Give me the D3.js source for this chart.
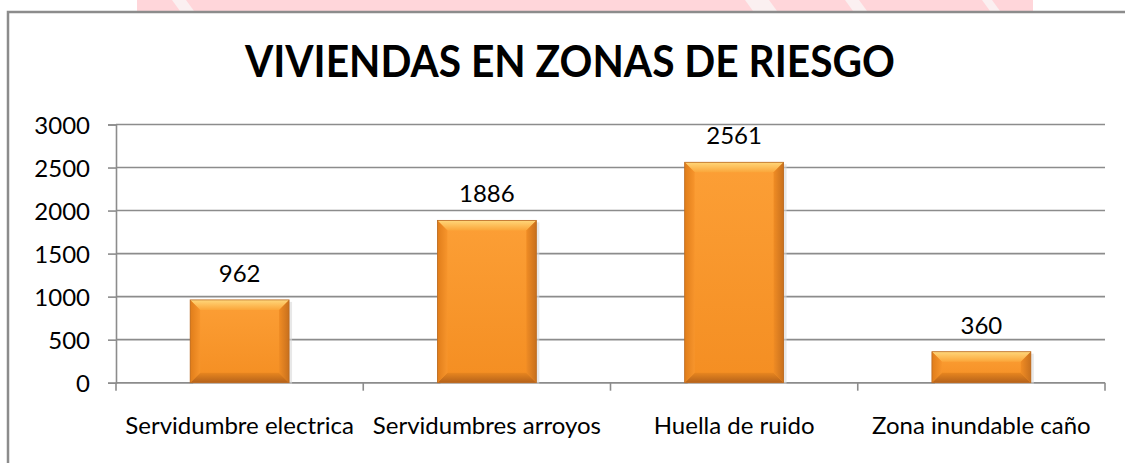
<!DOCTYPE html>
<html>
<head>
<meta charset="utf-8">
<script src="https://cdn.jsdelivr.net/npm/d3@7"></script>
<style>
  html, body { margin: 0; padding: 0; background: #ffffff; overflow: hidden; }
  svg { display: block; }
</style>
</head>
<body>
<svg id="chart" width="1125" height="463"></svg>
<script>
// ---- data ----
const titleText = "VIVIENDAS EN ZONAS DE RIESGO";
const categories = ["Servidumbre electrica", "Servidumbres arroyos", "Huella de ruido", "Zona inundable caño"];
const values = [962, 1886, 2561, 360];
const yTicks = [0, 500, 1000, 1500, 2000, 2500, 3000];

// ---- layout ----
const W = 1125, H = 463;
const plot = { left: 116, right: 1105, top: 124.5, bottom: 382.7 };
const fontFamily = "Lato, 'Open Sans', 'DejaVu Sans', sans-serif";
const labelSize = 24;
const gridColor = "#8c8c8c";

const svg = d3.select("#chart");

// decorative pink background strip at top (part of page image)
const deco = svg.append("g");
deco.append("rect").attr("x", 137).attr("y", 0).attr("width", 896).attr("height", 11)
  .attr("fill", "#ffd6da");
[[172, 14], [745, 24], [845, 14], [982, 10]].forEach(([gx, gw]) => {
  deco.append("polygon")
    .attr("points", `${gx},0 ${gx + gw},0 ${gx + gw + 8},11 ${gx + 8},11`)
    .attr("fill", "#fbf0f1");
});

// chart frame (left and top edges visible; others run off the page)
svg.append("rect").attr("x", 8).attr("y", 12).attr("width", W - 8).attr("height", H - 12).attr("fill", "#fff");
svg.append("path")
  .attr("d", `M8,${H} L8,12 L${W},12`)
  .attr("fill", "none")
  .attr("stroke", gridColor).attr("stroke-width", 2.5);

// title
svg.append("text")
  .attr("x", (245 + 895) / 2).attr("y", 77)
  .attr("text-anchor", "middle")
  .attr("font-family", fontFamily)
  .attr("font-weight", "bold")
  .attr("font-size", 44)
  .attr("textLength", 650)
  .attr("lengthAdjust", "spacingAndGlyphs")
  .attr("fill", "#000")
  .text(titleText);

// scales
const y = d3.scaleLinear().domain([0, 3000]).range([plot.bottom, plot.top]);
const xCat = d3.scaleBand().domain(categories).range([plot.left, plot.right]).padding(0);
const xBar = d3.scaleBand().domain(categories).range([plot.left, plot.right])
  .paddingInner(0.6).paddingOuter(0.3);

// gridlines
svg.append("g").selectAll("line").data(yTicks).join("line")
  .attr("x1", plot.left).attr("x2", plot.right)
  .attr("y1", d => y(d)).attr("y2", d => y(d))
  .attr("stroke", gridColor).attr("stroke-width", 1.6);

// y axis
const yAxis = svg.append("g")
  .attr("transform", `translate(${plot.left},0)`)
  .call(d3.axisLeft(y).tickValues(yTicks).tickSize(8).tickPadding(18).tickFormat(d3.format("d")));
yAxis.select(".domain").attr("stroke", gridColor).attr("stroke-width", 1.6);
yAxis.selectAll(".tick line").attr("stroke", gridColor).attr("stroke-width", 1.6);
yAxis.selectAll("text")
  .attr("font-family", fontFamily).attr("font-size", labelSize).attr("fill", "#000")
  .attr("dy", "0.36em");

// x axis (ticks at category boundaries)
const boundaries = categories.map(c => xCat(c)).concat([plot.right]);
const xAxisG = svg.append("g");
xAxisG.append("line")
  .attr("x1", plot.left).attr("x2", plot.right)
  .attr("y1", plot.bottom).attr("y2", plot.bottom)
  .attr("stroke", gridColor).attr("stroke-width", 1.6);
xAxisG.selectAll("line.tk").data(boundaries).join("line").attr("class", "tk")
  .attr("x1", d => d).attr("x2", d => d)
  .attr("y1", plot.bottom).attr("y2", plot.bottom + 8)
  .attr("stroke", gridColor).attr("stroke-width", 1.6);
xAxisG.selectAll("text").data(categories).join("text")
  .attr("x", d => xCat(d) + xCat.bandwidth() / 2)
  .attr("y", 434)
  .attr("text-anchor", "middle")
  .attr("font-family", fontFamily).attr("font-size", labelSize).attr("fill", "#000")
  .text(d => d);

// gradients for bevels
const defs = svg.append("defs");
const mkGrad = (id, x1, y1, x2, y2, stops) => {
  const g = defs.append("linearGradient").attr("id", id)
    .attr("x1", x1).attr("y1", y1).attr("x2", x2).attr("y2", y2);
  stops.forEach(([o, c]) => g.append("stop").attr("offset", o).attr("stop-color", c));
};
mkGrad("bvTop", 0, 0, 0, 1, [[0, "#ffd77a"], [1, "#fba63a"]]);
mkGrad("bvBot", 0, 0, 0, 1, [[0, "#e8861f"], [1, "#b5621a"]]);
mkGrad("bvLeft", 0, 0, 1, 0, [[0, "#e07d1a"], [1, "#f7952c"]]);
mkGrad("bvRight", 0, 0, 1, 0, [[0, "#f08c24"], [1, "#c8701d"]]);
mkGrad("face", 0, 0, 0, 1, [[0, "#fc9f36"], [1, "#f48e22"]]);

const data = categories.map((c, i) => ({ c, v: values[i] }));
const bars = svg.append("g").selectAll("g").data(data).join("g");

bars.each(function (d) {
  const g = d3.select(this);
  const x0 = xBar(d.c), w = xBar.bandwidth();
  const y0 = y(d.v), h = y(0) - y(d.v);
  const b = Math.min(10, h / 2.5);
  // shadow
  g.append("rect").attr("x", x0 + 3).attr("y", y0 + 2).attr("width", w).attr("height", h - 1)
    .attr("fill", "#d9d9d9").attr("opacity", 0.6);
  g.append("rect").attr("x", x0).attr("y", y0).attr("width", w).attr("height", h)
    .attr("fill", "url(#face)");
  const pts = a => a.map(p => p.join(",")).join(" ");
  g.append("polygon").attr("fill", "url(#bvTop)")
    .attr("points", pts([[x0, y0], [x0 + w, y0], [x0 + w - b, y0 + b], [x0 + b, y0 + b]]));
  g.append("polygon").attr("fill", "url(#bvBot)")
    .attr("points", pts([[x0 + b, y0 + h - b], [x0 + w - b, y0 + h - b], [x0 + w, y0 + h], [x0, y0 + h]]));
  g.append("polygon").attr("fill", "url(#bvLeft)")
    .attr("points", pts([[x0, y0], [x0 + b, y0 + b], [x0 + b, y0 + h - b], [x0, y0 + h]]));
  g.append("polygon").attr("fill", "url(#bvRight)")
    .attr("points", pts([[x0 + w, y0], [x0 + w, y0 + h], [x0 + w - b, y0 + h - b], [x0 + w - b, y0 + b]]));
  g.append("rect").attr("x", x0).attr("y", y0).attr("width", w).attr("height", h)
    .attr("fill", "none").attr("stroke", "#b86a24").attr("stroke-width", 0.8);
});

// data labels
svg.append("g").selectAll("text").data(data).join("text")
  .attr("x", d => xBar(d.c) + xBar.bandwidth() / 2)
  .attr("y", d => y(d.v) - 18)
  .attr("text-anchor", "middle")
  .attr("font-family", fontFamily).attr("font-size", labelSize).attr("fill", "#000")
  .text(d => d.v);
</script>
</body>
</html>
